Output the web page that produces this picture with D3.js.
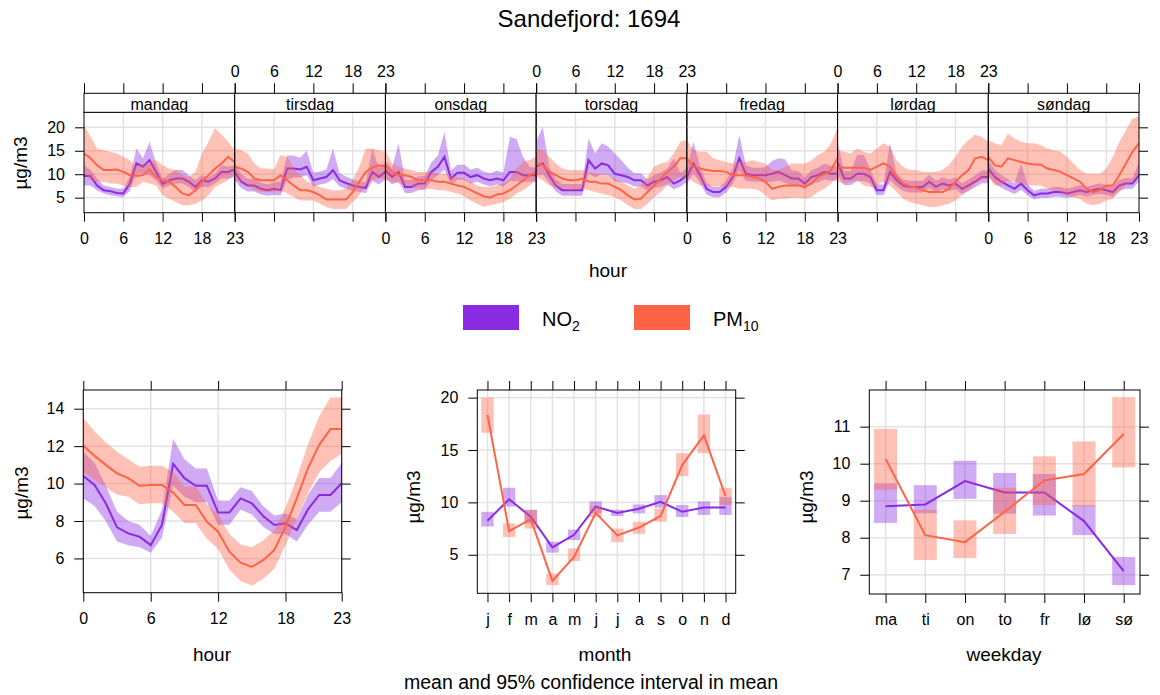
<!DOCTYPE html>
<html>
<head>
<meta charset="utf-8">
<script src="https://cdn.jsdelivr.net/npm/d3@7"></script>
<style>
body{margin:0;background:#fff;}
svg text{font-family:"Liberation Sans",Arial,sans-serif;fill:#000;}
</style>
</head>
<body>
<div id="chart"></div>
<script>
const days = ['mandag','tirsdag','onsdag','torsdag','fredag','lørdag','søndag'];
const hourTicks = [0,6,12,18,23];
const months = ['j','f','m','a','m','j','j','a','s','o','n','d'];
const weekdays = ['ma','ti','on','to','fr','lø','sø'];

// day.hour – one row per weekday, mandag first
const no2Week = [
  9.6,9.6,7.6,6.6,6.4,6.0,5.9,8.0,12.3,11.6,13.0,10.5,7.9,8.7,9.1,9.1,8.4,7.3,8.7,8.4,9.1,10.5,10.5,11.0,
  10.5,8.4,7.6,7.6,6.9,6.6,6.9,6.6,11.2,11.2,11.0,11.6,8.7,9.1,9.4,10.9,8.7,8.1,7.6,7.3,7.1,10.5,9.4,10.5,
  10.9,9.4,10.5,7.3,7.3,8.0,8.0,10.5,11.6,13.7,9.1,10.3,10.3,9.4,9.8,9.1,8.7,9.1,8.7,10.5,10.5,9.8,9.8,9.8,
  11.6,12.3,9.8,7.6,6.6,6.6,6.6,6.6,13.0,11.2,12.3,11.9,10.1,9.8,9.4,8.7,8.7,7.6,8.4,8.7,9.4,8.0,8.7,9.8,
  9.4,12.3,9.8,6.9,6.2,6.2,7.3,9.4,13.4,10.1,9.8,9.8,9.8,10.1,10.5,9.8,9.1,9.1,8.0,9.4,9.8,10.5,10.1,10.1,
  12.6,9.1,9.1,10.1,10.1,9.4,6.6,6.6,10.5,8.7,7.6,7.3,7.3,7.3,8.4,7.3,8.0,7.6,8.0,6.9,7.6,8.4,9.4,9.4,
  11.2,9.4,8.4,7.6,6.9,8.0,6.6,5.5,5.9,5.9,6.2,6.2,5.9,6.2,6.6,6.2,6.6,6.9,6.6,6.2,7.6,8.0,8.0,9.8
];
const no2WeekLo = [
  7.6,7.6,6.6,5.9,5.5,5.3,5.1,6.5,10.1,10.1,9.8,8.7,6.9,7.6,8.0,8.0,7.3,6.2,7.3,7.3,8.0,9.1,9.1,9.4,
  8.7,7.0,6.3,6.3,5.7,5.4,5.6,5.4,8.9,9.3,9.3,9.8,7.4,7.8,8.1,9.0,7.4,6.9,6.5,6.2,6.0,8.6,7.8,8.9,
  9.2,7.8,8.5,6.0,6.0,6.6,6.7,8.6,9.8,11.0,7.7,8.8,8.8,8.0,8.4,7.8,7.4,7.8,7.4,8.5,8.5,8.3,8.4,8.4,
  9.6,10.0,8.2,6.3,5.4,5.4,5.4,5.4,10.2,9.3,10.0,9.8,8.5,8.3,8.0,7.4,7.4,6.4,7.1,7.3,7.8,6.8,7.4,8.3,
  7.8,10.2,8.2,5.7,5.1,5.1,6.1,7.9,10.8,8.6,8.4,8.4,8.3,8.4,8.6,8.2,7.7,7.7,6.8,8.0,8.3,8.9,8.6,8.6,
  9.6,7.7,7.7,8.5,8.5,8.0,5.5,5.5,8.7,7.4,6.4,6.1,6.1,6.1,7.1,6.1,6.8,6.4,6.8,5.8,6.5,7.2,8.1,8.1,
  9.6,8.0,7.1,6.4,5.8,6.7,5.5,4.6,5.0,5.0,5.2,5.2,5.0,5.2,5.6,5.2,5.6,5.8,5.6,5.2,6.5,6.9,6.9,8.4
];
const no2WeekHi = [
  11.9,10.9,9.1,7.6,7.3,6.9,6.9,9.5,15.5,13.4,16.9,12.3,9.1,10.1,10.9,10.9,9.8,8.7,9.8,9.4,10.1,11.9,11.6,11.9,
  12.6,10.0,9.0,9.1,8.2,7.8,8.3,8.4,14.0,14.0,13.5,15.0,10.3,10.6,11.0,15.5,10.2,9.5,8.9,8.5,8.3,15.5,11.3,12.5,
  13.0,11.2,16.6,8.8,8.8,9.5,9.6,12.5,14.0,19.0,10.8,12.0,12.0,11.0,11.4,10.6,10.2,10.8,10.3,18.0,17.5,13.7,11.6,11.4,
  16.9,20.1,11.6,9.0,7.9,7.9,7.9,7.9,17.6,14.4,16.6,15.9,14.4,13.0,11.4,10.2,10.2,8.9,9.9,10.3,11.2,13.4,10.3,11.4,
  11.2,16.9,11.8,8.2,7.3,7.3,8.6,11.4,18.4,11.9,11.4,11.4,11.5,12.8,13.4,13.2,10.8,10.7,9.3,10.9,11.4,12.3,11.8,11.8,
  16.9,10.7,10.7,14.1,14.1,11.0,7.8,7.8,16.6,10.2,8.9,8.6,8.6,8.6,9.9,8.6,9.3,8.9,9.3,8.1,8.9,9.8,10.8,10.8,
  13.0,11.0,9.8,9.0,8.1,12.3,7.8,6.5,6.9,6.9,7.3,7.3,6.9,7.3,7.7,7.3,7.7,8.1,7.7,7.3,8.8,9.2,9.2,12.6
];
const pm10Week = [
  14.4,13.4,11.9,10.9,10.9,11.0,10.5,9.8,9.6,9.8,11.0,9.4,8.7,8.4,7.3,5.9,5.5,6.6,8.4,9.8,11.2,12.3,13.7,12.6,
  11.6,11.2,10.5,9.1,8.7,8.7,8.7,9.8,8.7,7.6,6.6,6.6,6.2,5.5,4.6,4.6,4.6,4.6,6.2,8.4,10.5,11.4,11.9,11.7,
  11.9,10.5,9.8,9.8,9.4,8.7,8.7,8.7,8.4,8.4,8.0,7.6,7.3,6.6,5.9,5.3,5.0,5.7,5.9,6.6,7.6,8.7,9.8,10.5,
  12.3,11.9,10.5,9.8,9.1,8.7,8.7,9.1,8.4,8.4,8.0,8.0,7.3,6.6,5.5,4.6,4.8,6.2,7.6,9.1,10.5,11.6,13.4,13.4,
  13.4,11.6,11.2,10.9,10.7,10.7,10.5,9.8,9.8,9.8,9.4,9.1,8.4,6.9,7.3,7.6,7.6,7.6,7.3,8.0,9.4,10.1,10.9,13.4,
  11.6,11.4,11.4,11.4,11.4,10.9,11.6,12.3,11.6,9.4,8.0,7.4,7.1,6.6,6.2,6.2,6.2,6.9,8.4,9.8,10.9,13.4,13.7,13.0,
  13.7,11.9,11.6,13.4,13.0,12.6,12.3,12.1,12.1,11.2,10.9,10.5,9.8,9.1,8.4,6.9,6.2,6.6,7.6,7.6,9.8,12.3,14.8,16.6
];
const pm10WeekLo = [
  10.1,8.7,8.4,8.4,8.0,8.0,7.6,7.3,7.3,8.4,8.0,7.6,5.5,4.8,4.1,3.4,3.4,3.7,4.4,5.5,7.3,8.0,8.7,10.1,
  8.7,8.4,7.6,6.6,6.2,6.2,6.2,6.6,5.9,5.1,4.4,4.4,4.4,3.7,3.0,2.6,2.6,2.6,4.1,5.5,7.6,8.7,9.1,9.1,
  8.7,8.4,8.0,7.6,7.3,6.9,6.9,6.9,6.6,6.6,6.2,5.9,5.3,4.4,3.7,3.0,3.4,3.7,4.1,4.8,5.9,6.6,7.6,8.7,
  9.4,8.7,7.6,7.3,6.9,6.6,6.6,6.9,6.6,6.2,5.9,5.5,5.1,4.4,3.4,2.6,2.6,3.7,5.1,6.2,7.6,8.7,9.4,9.1,
  9.4,8.4,7.6,7.6,7.4,7.4,7.4,7.3,6.9,6.9,6.9,6.6,5.5,4.4,4.8,4.8,5.0,5.0,4.8,5.1,6.2,6.9,8.0,9.4,
  8.4,8.0,8.4,8.7,7.6,7.3,7.6,8.4,7.6,6.2,4.8,4.1,3.7,3.4,3.0,3.0,3.4,3.7,4.4,5.5,6.6,8.0,8.7,9.1,
  9.4,7.6,7.6,8.7,8.4,8.0,7.6,7.6,7.6,6.9,6.6,6.2,5.5,5.1,4.8,3.7,3.4,3.7,4.4,4.8,6.2,7.6,8.4,9.8
];
const pm10WeekHi = [
  20.5,18.0,15.5,15.1,14.8,14.4,13.7,13.0,11.6,12.3,12.6,13.0,11.9,11.2,10.9,9.8,9.4,10.5,14.4,16.9,19.8,18.4,16.9,15.1,
  15.5,15.1,14.4,12.3,11.2,11.2,11.0,14.1,13.7,11.2,9.8,8.4,8.0,7.3,6.9,6.6,6.6,6.9,8.7,11.6,15.5,15.5,15.1,14.8,
  15.1,12.3,11.6,11.2,10.9,10.5,10.5,10.5,10.1,10.1,9.8,9.4,9.1,8.4,7.6,7.3,7.3,7.6,8.0,9.1,11.2,12.6,13.0,13.7,
  15.5,15.1,13.7,12.3,11.2,10.9,10.9,10.9,10.5,10.1,10.1,9.8,9.1,8.4,7.6,6.9,7.6,9.4,11.6,12.3,12.6,14.4,16.9,17.3,
  17.3,15.1,14.8,14.8,13.4,13.0,12.6,12.3,12.6,12.6,13.0,12.6,12.3,10.9,10.9,11.6,12.3,12.3,12.3,13.0,14.1,14.8,16.6,19.8,
  15.1,14.8,14.4,15.5,14.8,14.4,15.5,16.6,15.9,13.0,11.6,10.9,10.9,10.5,10.5,10.5,10.9,11.9,13.7,15.9,17.3,18.4,18.0,16.9,
  17.3,16.6,16.2,18.7,17.6,16.9,16.6,16.6,16.2,15.5,15.1,14.8,13.7,12.3,10.9,10.1,10.1,10.1,11.2,13.7,16.9,19.4,21.9,22.3
];

// hour of day
const no2Hour = [10.41,9.93,8.95,7.66,7.34,7.16,6.71,7.79,11.05,10.29,9.88,9.88,8.45,8.45,9.21,8.95,8.27,7.79,7.88,7.52,8.62,9.39,9.39,10.02];
const no2HourLo = [9.2,8.8,8.0,6.9,6.7,6.6,6.3,7.1,9.9,9.3,9.0,9.0,7.8,7.8,8.6,8.35,7.7,7.3,7.3,6.9,7.8,8.5,8.5,9.0];
const no2HourHi = [11.7,11.1,9.9,8.5,8.0,7.8,7.2,8.6,12.4,11.3,10.8,10.8,9.1,9.1,9.8,9.6,8.8,8.3,8.4,8.1,9.4,10.3,10.3,11.1];
const pm10Hour = [12.04,11.48,11.0,10.55,10.29,9.88,9.93,9.93,9.52,8.86,8.86,7.96,7.43,6.36,5.77,5.55,5.91,6.45,7.7,9.21,10.82,12.07,12.91,12.91];
const pm10HourLo = [10.6,10.2,9.8,9.4,9.3,8.9,8.95,8.95,8.5,7.9,7.9,7.05,6.5,5.4,4.8,4.55,4.9,5.45,6.7,8.1,9.5,10.6,11.2,11.6];
const pm10HourHi = [13.5,12.8,12.2,11.7,11.3,10.9,10.95,10.95,10.6,9.85,9.85,8.9,8.35,7.3,6.75,6.6,6.95,7.5,8.7,10.3,12.1,13.6,14.6,14.6];

// month
const no2Month = [8.25,10.3,8.63,5.7,6.9,9.6,9.0,9.4,10.06,9.1,9.5,9.5];
const no2MonthLo = [7.7,9.6,8.0,5.2,6.4,9.0,8.7,8.95,9.5,8.6,8.8,8.8];
const no2MonthHi = [9.1,11.4,9.3,6.25,7.4,10.1,9.3,9.8,10.7,9.75,10.1,10.5];
const pm10Month = [18.35,7.26,8.4,2.5,4.8,9.0,6.85,7.6,8.7,13.57,16.4,10.6];
const pm10MonthLo = [16.65,6.7,7.5,2.1,4.4,8.6,6.2,7.0,8.15,12.5,14.7,9.75];
const pm10MonthHi = [20.0,8.0,9.27,3.2,5.6,9.6,7.5,8.15,9.4,14.7,18.4,11.4];

// weekday
const no2Day = [8.85,8.9,9.53,9.22,9.22,8.45,7.1];
const no2DayLo = [8.4,8.66,9.05,8.65,8.6,8.07,6.72];
const no2DayHi = [9.47,9.42,10.08,9.75,9.72,8.88,7.48];
const pm10Day = [10.13,8.07,7.88,8.7,9.55,9.72,10.8];
const pm10DayLo = [9.3,7.4,7.45,8.1,8.88,8.85,9.9];
const pm10DayHi = [10.94,8.75,8.47,9.35,10.2,10.6,11.8];

const colors = {NO2:'#8A2BE2', PM10:'#FF6347'};
const gridColor = '#e3e3e3';
const tickFont = 16;

const svg = d3.select('#chart')
.append('svg')
.attr('width',1160)
.attr('height',695)
.style('background','#fff');

// build series objects from arrays
function series(name, mean, lo, hi){
    return {name:name, values: mean.map(function(m,i){ return {i:i, mean:m, lo:lo[i], hi:hi[i]}; })};
}

function styleAxis(g, showLabels){
    g.select('.domain').remove();
    g.attr('font-family','"Liberation Sans",Arial,sans-serif').attr('font-size',tickFont);
    g.selectAll('line').attr('stroke','#000');
    if(!showLabels) g.selectAll('text').remove();
}

function gridLines(g, x, y, xs, ys, box){
    g.selectAll('.gx').data(xs).enter().append('line')
    .attr('x1',d=>x(d)).attr('x2',d=>x(d)).attr('y1',box.top).attr('y2',box.bottom)
    .attr('stroke',gridColor).attr('stroke-width',1.5);
    g.selectAll('.gy').data(ys).enter().append('line')
    .attr('x1',box.left).attr('x2',box.right).attr('y1',d=>y(d)).attr('y2',d=>y(d))
    .attr('stroke',gridColor).attr('stroke-width',1.5);
}

function frame(g, box){
    g.append('rect').attr('x',box.left).attr('y',box.top)
    .attr('width',box.right-box.left).attr('height',box.bottom-box.top)
    .attr('fill','none').attr('stroke','#000').attr('stroke-width',1);
}

function drawBands(g, x, y, list){
    list.forEach(function(s){
        const area = d3.area().x(d=>x(d.i)).y0(d=>y(d.lo)).y1(d=>y(d.hi));
        const line = d3.line().x(d=>x(d.i)).y(d=>y(d.mean));
        g.append('path').attr('d',area(s.values)).attr('fill',colors[s.name]).attr('fill-opacity',0.4);
        g.append('path').attr('d',line(s.values)).attr('fill','none').attr('stroke',colors[s.name]).attr('stroke-width',2);
    });
}

function drawBoxes(g, x, y, list, bw){
    list.forEach(function(s){
        g.selectAll(null).data(s.values).enter().append('rect')
        .attr('x',d=>x(d.i)-bw/2).attr('width',bw)
        .attr('y',d=>y(d.hi)).attr('height',d=>y(d.lo)-y(d.hi))
        .attr('fill',colors[s.name]).attr('fill-opacity',0.4);
        const line = d3.line().x(d=>x(d.i)).y(d=>y(d.mean));
        g.append('path').attr('d',line(s.values)).attr('fill','none').attr('stroke',colors[s.name]).attr('stroke-width',2);
    });
}

function label(x, y, str, size, rotate){
    const t = svg.append('text').attr('x',x).attr('y',y).attr('text-anchor','middle')
    .attr('dominant-baseline','middle').attr('font-size',size).text(str);
    if(rotate) t.attr('transform',`rotate(-90,${x},${y})`);
    return t;
}

// ---------- title ----------
label(589, 21, 'Sandefjord: 1694', 24);

// ---------- day.hour panel ----------
const topBox = {left:84, right:1139, top:112.3, bottom:212.7, stripTop:93.3};
const pw = (topBox.right-topBox.left)/7;
const yTop = d3.scaleLinear().domain([1.8,23.2]).range([topBox.bottom, topBox.top]);

const topG = svg.append('g');
days.forEach(function(day, i){
    const box = {left:topBox.left+i*pw, right:topBox.left+(i+1)*pw, top:topBox.top, bottom:topBox.bottom};
    const x = d3.scaleLinear().domain([0,23]).range([box.left, box.right]);
    const pg = topG.append('g');
    gridLines(pg, x, yTop, [6,12,18], [5,10,15,20], box);

    const clipId = 'clip'+i;
    pg.append('clipPath').attr('id',clipId).append('rect')
    .attr('x',box.left).attr('y',box.top).attr('width',pw).attr('height',box.bottom-box.top);
    const inner = pg.append('g').attr('clip-path',`url(#${clipId})`);
    const s = i*24, e = s+24;
    drawBands(inner, x, yTop, [
        series('NO2', no2Week.slice(s,e), no2WeekLo.slice(s,e), no2WeekHi.slice(s,e)),
        series('PM10', pm10Week.slice(s,e), pm10WeekLo.slice(s,e), pm10WeekHi.slice(s,e))
    ]);
    frame(pg, box);

    // strip
    pg.append('rect').attr('x',box.left).attr('y',topBox.stripTop).attr('width',pw).attr('height',topBox.top-topBox.stripTop)
    .attr('fill','#fff').attr('stroke','#000');
    const sclip = 'sclip'+i;
    pg.append('clipPath').attr('id',sclip).append('rect')
    .attr('x',box.left).attr('y',topBox.stripTop).attr('width',pw).attr('height',topBox.top-topBox.stripTop);
    pg.append('text').attr('clip-path',`url(#${sclip})`)
    .attr('x',(box.left+box.right)/2).attr('y',topBox.top-2).attr('text-anchor','middle')
    .attr('font-size',16).text(day);

    const bx = pg.append('g').attr('transform',`translate(0,${box.bottom})`)
    .call(d3.axisBottom(x).tickValues(hourTicks).tickSize(9).tickPadding(11).tickFormat(d3.format('d')));
    styleAxis(bx, i%2===0);
    const tx = pg.append('g').attr('transform',`translate(0,${topBox.stripTop})`)
    .call(d3.axisTop(x).tickValues(hourTicks).tickSize(10).tickPadding(6).tickFormat(d3.format('d')));
    styleAxis(tx, i%2===1);
});
const ly = topG.append('g').attr('transform',`translate(${topBox.left},0)`)
.call(d3.axisLeft(yTop).tickValues([5,10,15,20]).tickSize(9).tickPadding(10));
styleAxis(ly, true);
const ry = topG.append('g').attr('transform',`translate(${topBox.right},0)`)
.call(d3.axisRight(yTop).tickValues([5,10,15,20]).tickSize(9));
styleAxis(ry, false);
label(22, 163, 'µg/m3', 19, true);
label(608, 272, 'hour', 19);

// ---------- legend ----------
const legend = svg.append('g');
[['NO','2',463,542],['PM','10',634,713]].forEach(function(l, i){
    legend.append('rect').attr('x',l[2]).attr('y',305).attr('width',56).attr('height',25)
    .attr('fill',colors[i===0?'NO2':'PM10']);
    const t = legend.append('text').attr('x',l[3]).attr('y',326).attr('font-size',20);
    t.append('tspan').text(l[0]);
    t.append('tspan').attr('font-size',14).attr('dy',5).text(l[1]);
});

// ---------- bottom panels ----------
function bottomPanel(box, x, y, xTicks, xFormat, yTicks, draw){
    const g = svg.append('g');
    gridLines(g, x, y, xTicks, yTicks, box);
    draw(g);
    frame(g, box);
    const b = g.append('g').attr('transform',`translate(0,${box.bottom})`)
    .call(d3.axisBottom(x).tickValues(xTicks).tickSize(9).tickPadding(11).tickFormat(xFormat));
    styleAxis(b, true);
    const t = g.append('g').attr('transform',`translate(0,${box.top})`)
    .call(d3.axisTop(x).tickValues(xTicks).tickSize(9));
    styleAxis(t, false);
    const l = g.append('g').attr('transform',`translate(${box.left},0)`)
    .call(d3.axisLeft(y).tickValues(yTicks).tickSize(9).tickPadding(10).tickFormat(d3.format('d')));
    styleAxis(l, true);
    const r = g.append('g').attr('transform',`translate(${box.right},0)`)
    .call(d3.axisRight(y).tickValues(yTicks).tickSize(9));
    styleAxis(r, false);
}

// hour
const hBox = {left:83.3, right:341.7, top:390, bottom:592.7};
const xHour = d3.scaleLinear().domain([0,23]).range([hBox.left, hBox.right]);
const yHour = d3.scaleLinear().domain([4.17,15.0]).range([hBox.bottom, hBox.top]);
bottomPanel(hBox, xHour, yHour, hourTicks, d3.format('d'), [6,8,10,12,14], function(g){
    drawBands(g, xHour, yHour, [
        series('NO2', no2Hour, no2HourLo, no2HourHi),
        series('PM10', pm10Hour, pm10HourLo, pm10HourHi)
    ]);
});
label(23, 493, 'µg/m3', 19, true);
label(212, 656, 'hour', 19);

// month
const mBox = {left:477.3, right:735.7, top:390, bottom:593.3};
const xMonth = d3.scaleLinear().domain([-0.47,11.47]).range([mBox.left, mBox.right]);
const yMonth = d3.scaleLinear().domain([1.32,20.73]).range([mBox.bottom, mBox.top]);
bottomPanel(mBox, xMonth, yMonth, d3.range(12), i=>months[i], [5,10,15,20], function(g){
    drawBoxes(g, xMonth, yMonth, [
        series('NO2', no2Month, no2MonthLo, no2MonthHi),
        series('PM10', pm10Month, pm10MonthLo, pm10MonthHi)
    ], 12.4);
});
label(415, 497, 'µg/m3', 19, true);
label(605, 656, 'month', 19);

// weekday
const wBox = {left:869.3, right:1140, top:390, bottom:594};
const xDay = d3.scaleLinear().domain([-0.41,6.41]).range([wBox.left, wBox.right]);
const yDay = d3.scaleLinear().domain([6.48,11.99]).range([wBox.bottom, wBox.top]);
bottomPanel(wBox, xDay, yDay, d3.range(7), i=>weekdays[i], [7,8,9,10,11], function(g){
    drawBoxes(g, xDay, yDay, [
        series('NO2', no2Day, no2DayLo, no2DayHi),
        series('PM10', pm10Day, pm10DayLo, pm10DayHi)
    ], 23);
});
label(808, 497, 'µg/m3', 19, true);
label(1004, 656, 'weekday', 19);

label(591, 684, 'mean and 95% confidence interval in mean', 19.5);
</script>
</body>
</html>
